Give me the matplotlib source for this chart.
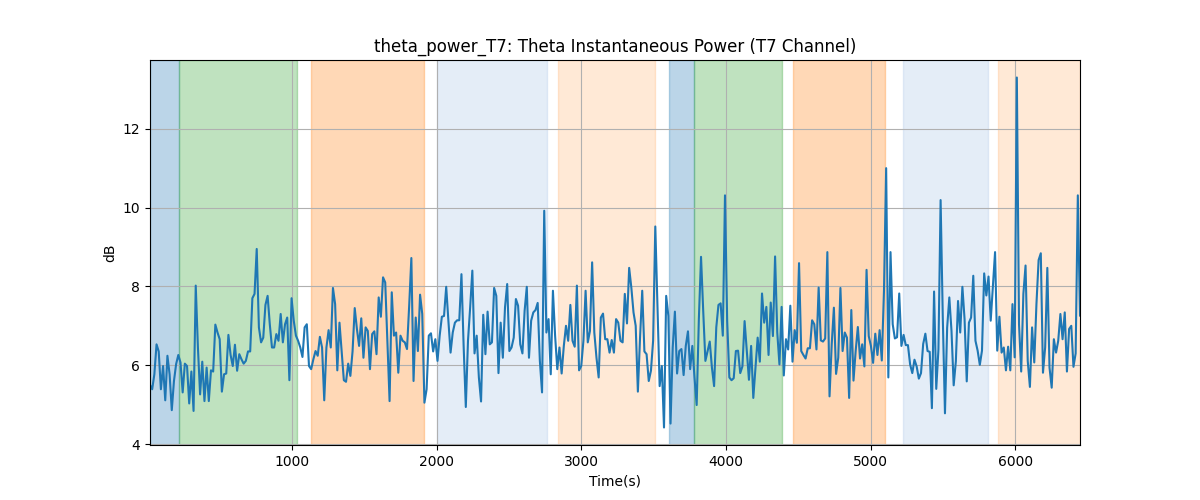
import numpy as np
import matplotlib
matplotlib.use('Agg')
import matplotlib.pyplot as plt

# theta power samples (dB)
theta_db = [
    5.50, 5.39, 5.77, 6.53, 6.35, 5.39, 5.98, 5.11, 6.24, 5.77,
    4.86, 5.60, 6.03, 6.26, 6.07, 5.31, 6.04, 5.98, 5.03, 5.84,
    4.84, 8.02, 6.45, 5.26, 6.09, 5.09, 5.94, 5.09, 5.87, 5.84,
    7.03, 6.83, 6.66, 5.33, 5.77, 5.79, 6.77, 6.26, 5.98, 6.52,
    5.86, 6.28, 6.15, 6.04, 6.11, 6.35, 6.35, 7.70, 7.81, 8.95,
    6.96, 6.58, 6.70, 7.53,
    7.76, 7.04, 6.45, 6.45, 6.79, 6.62, 7.30, 6.58, 7.04, 7.21,
    5.62, 7.70, 7.13, 6.75, 6.62, 6.45, 6.21, 6.96, 7.04, 5.98,
    5.90, 6.15, 6.36, 6.24, 6.72, 6.45, 5.11, 6.45, 6.89, 6.45,
    7.96, 7.55, 5.87, 7.08, 6.36, 5.62, 5.58, 6.04, 5.73, 6.35,
    7.45, 6.92, 6.49, 7.19, 6.19, 6.96, 6.87, 5.90, 6.79, 6.86,
    6.28, 7.72, 7.23,
    8.23, 8.10, 6.62, 5.09, 7.85, 6.75, 6.83, 5.81, 6.75, 6.62,
    6.58, 6.41, 7.51, 8.72, 5.60, 7.21, 6.36, 7.79, 7.30, 5.05,
    5.39, 6.75, 6.81, 6.35, 6.66, 6.11, 6.75, 7.23, 7.25, 7.99,
    7.13, 6.32, 6.83, 7.08, 7.14, 7.14, 8.31, 6.49, 4.94, 6.62,
    7.47, 8.40, 6.30, 6.75, 5.69, 5.08, 7.28, 6.28, 7.36, 6.53,
    6.58, 7.96, 7.76, 5.80,
    7.08, 6.19, 7.47, 8.06, 6.36, 6.45, 6.70, 7.68, 7.51, 6.53,
    6.30, 7.38, 7.99, 6.19, 7.13, 7.34, 7.40, 7.58, 6.11, 5.31,
    9.92, 6.83, 7.17, 5.77, 7.89, 6.75, 5.90, 6.45, 5.79, 6.49,
    7.00, 6.62, 7.53, 6.62, 6.47, 8.02, 5.87, 5.98, 6.62, 7.89,
    6.58, 6.87, 8.61, 6.83, 6.19, 5.69, 7.21, 7.31, 6.66, 6.66,
    6.32, 6.64, 6.32, 7.17,
    7.08, 6.62, 6.58, 7.81, 7.06, 8.47, 7.97, 7.34, 7.00, 5.33,
    6.70, 7.89, 6.35, 6.28, 5.60, 5.86, 6.62, 9.52, 7.47, 5.47,
    5.98, 4.42, 7.76, 7.25, 4.52, 6.45, 7.36, 5.79, 6.36, 6.41,
    5.75, 6.49, 6.86, 5.90, 6.49, 5.69, 4.99, 7.17, 8.75, 7.38,
    6.11, 6.35, 6.60, 5.94, 5.47, 6.96, 7.53, 7.57, 6.75, 10.31,
    7.13, 5.69, 5.62, 5.67,
    6.36, 6.37, 5.80, 5.97, 7.12, 6.36, 5.63, 6.49, 5.17, 5.93,
    6.70, 6.09, 7.82, 7.08, 7.48, 6.26, 7.59, 6.74, 8.76, 6.83,
    6.02, 7.48, 5.74, 6.66, 6.40, 7.51, 6.09, 6.89, 6.57, 8.59,
    6.36, 6.26, 6.17, 6.43, 6.43, 7.14, 7.04, 6.40, 7.97, 6.63,
    6.60, 6.68, 8.87, 5.21, 6.53, 7.46, 5.78, 6.19, 7.96, 6.36,
    6.83, 6.70, 5.17,
    7.40, 5.61, 6.36, 6.97, 6.17, 6.53, 5.97, 8.42, 6.74, 6.49,
    6.06, 6.80, 6.26, 6.89, 6.12, 7.89, 11.00, 5.69, 8.87, 7.04,
    6.68, 6.71, 7.82, 6.49, 6.77, 6.51, 6.51, 6.02, 5.80, 6.14,
    5.97, 5.66, 5.80, 6.54, 6.80, 6.36, 6.34, 4.91, 7.87, 5.40,
    6.40, 10.19, 7.21, 4.78, 6.95, 7.72, 6.87, 5.49, 6.10, 7.63,
    6.83, 7.99, 7.17, 5.59, 7.08,
    7.21, 8.27, 6.62, 6.37, 6.01, 6.37, 8.33, 7.77, 8.25, 7.13,
    7.98, 8.87, 6.37, 7.23, 6.32, 6.45, 5.87, 6.47, 5.87, 7.55,
    6.20, 13.30, 7.04, 5.84, 7.81, 8.53, 6.11, 5.45, 6.96, 6.07,
    7.55, 8.67, 8.84, 5.81, 6.45, 8.47, 5.94, 5.43, 6.66, 6.32,
    6.62, 7.30, 6.66, 7.34, 5.84, 6.92, 7.00, 5.96, 6.30, 10.31,
    7.26,
]

# first and last sample time (s); samples are evenly spaced
t_start = 16
t_end = 6448

# shaded segments: (start, end, colour, alpha)
seg_starts = [16, 216, 1130, 2000, 2838, 3605, 3776, 4463, 5224, 5881]
seg_ends = [216, 1035, 1909, 2759, 3506, 3776, 4385, 5097, 5809, 6448]
seg_colors = ['tab:blue', 'tab:green', 'tab:orange', '#aec7e8', 'tab:orange',
              'tab:blue', 'tab:green', 'tab:orange', '#aec7e8', 'tab:orange']
seg_alphas = [0.3, 0.3, 0.3, 0.32, 0.17, 0.3, 0.3, 0.3, 0.32, 0.17]


def main():
    times = np.linspace(t_start, t_end, len(theta_db))

    fig, ax = plt.subplots(figsize=(12, 5), dpi=100)

    for s, e, c, a in zip(seg_starts, seg_ends, seg_colors, seg_alphas):
        ax.axvspan(s, e, color=c, alpha=a)

    ax.plot(times, theta_db, color='tab:blue', linewidth=1.5)

    ax.set_xlim(times[0], times[-1])
    ax.set_title('theta_power_T7: Theta Instantaneous Power (T7 Channel)')
    ax.set_xlabel('Time(s)')
    ax.set_ylabel('dB')
    ax.grid(True)

    plt.savefig('out.png')


if __name__ == "__main__":
    main()
